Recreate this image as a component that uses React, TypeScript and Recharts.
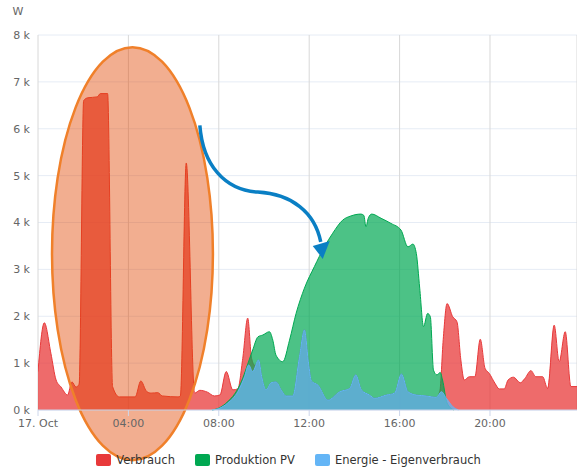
import React from "react";
import {
  AreaChart,
  Area,
  XAxis,
  YAxis,
  CartesianGrid,
  Legend,
  ReferenceArea,
} from "recharts";

// hours since midnight, values in kW
const verbrauchTimes = [
  0, 0.28, 0.57, 0.8, 1.02, 1.31, 1.5, 1.68, 1.82, 2.02, 2.2, 2.62, 2.76, 3.08, 3.3, 3.6,
  4.3, 4.55, 4.8, 5.0, 5.3, 5.5, 6.2, 6.3, 6.56, 6.93, 7.16, 7.5, 7.8, 8.05, 8.33, 8.62,
  8.84, 9.06, 9.28, 9.45, 9.6, 9.76, 9.9, 10.09, 10.31, 10.53, 10.76, 10.98, 11.27, 11.57,
  11.79, 11.97, 12.1, 12.39, 12.83, 13.35, 13.79, 14.06, 14.31, 14.67, 14.9, 15.41, 15.78,
  16.08, 16.37, 16.74, 17.18, 17.62, 17.78, 17.93, 18.1, 18.35, 18.54, 18.71, 18.86, 19.09,
  19.33, 19.57, 19.78, 19.97, 20.22, 20.41, 20.63, 20.8, 21.04, 21.34, 21.54, 21.81, 22.03,
  22.33, 22.55, 22.84, 23.06, 23.33, 23.58, 23.85,
];
const verbrauchValues = [
  0.82, 1.86, 1.21, 0.64, 0.49, 0.32, 0.6, 0.49, 0.55, 6.6, 6.66, 6.68, 6.75, 6.75, 0.5, 0.28,
  0.28, 0.62, 0.4, 0.36, 0.37, 0.3, 0.28, 0.3, 5.27, 0.36, 0.42, 0.38, 0.3, 0.32, 0.82, 0.43,
  0.45, 1.1, 1.96, 1.1, 0.95, 1.07, 0.71, 0.43, 0.58, 0.6, 0.43, 0.3, 0.3, 1.14,
  1.71, 1.0, 0.62, 0.53, 0.21, 0.39, 0.46, 0.75, 0.43, 0.32, 0.25, 0.32, 0.36,
  0.77, 0.39, 0.32, 0.3, 0.27, 0.4, 1.5, 2.27, 1.99, 1.88, 1.07, 0.64, 0.71,
  0.71, 1.51, 0.89, 0.78, 0.57, 0.45, 0.45, 0.64, 0.7, 0.58, 0.67, 0.84, 0.71,
  0.71, 0.46, 1.81, 1.03, 1.67, 0.5, 0.5,
];

const pvTimes = [
  7.7, 8.0, 8.4, 8.84, 9.06, 9.28, 9.5, 9.73, 9.95, 10.24, 10.39, 10.53, 10.83, 11.13, 11.42,
  11.79, 12.23, 12.67, 13.04, 13.48, 13.85, 14.29, 14.42, 14.51, 14.62, 14.77, 15.18, 15.62,
  16.06, 16.37, 16.59, 16.74, 16.89, 17.06, 17.24, 17.36, 17.5, 17.65, 17.8, 17.9, 18.1, 18.4,
];
const pvValues = [
  0, 0.04, 0.18, 0.45, 0.68, 0.98, 1.28, 1.56, 1.6, 1.67, 1.49, 1.17, 1.03, 1.49, 2.06,
  2.6, 3.06, 3.48, 3.77, 4.05, 4.14, 4.18, 4.15, 3.91, 4.1, 4.18, 4.09, 3.98,
  3.84, 3.48, 3.54, 3.34, 2.6, 1.78, 2.06, 1.99, 0.85, 0.75, 0.8, 0.64, 0.15, 0,
];

const eigenTimes = [
  7.7, 8.0, 8.4, 8.84, 9.14, 9.32, 9.5, 9.76, 9.9, 10.09, 10.31, 10.53, 10.76, 10.98, 11.27,
  11.57, 11.79, 11.97, 12.1, 12.39, 12.83, 13.35, 13.79, 14.06, 14.31, 14.67, 14.9, 15.41,
  15.78, 16.08, 16.37, 16.74, 17.18, 17.62, 17.85, 18.07, 18.36, 18.6,
];
const eigenValues = [
  0, 0.03, 0.15, 0.39, 0.71, 0.96, 0.82, 1.07, 0.71, 0.43, 0.58, 0.6, 0.43, 0.3, 0.3,
  1.14, 1.71, 1.0, 0.62, 0.53, 0.21, 0.39, 0.46, 0.75, 0.43, 0.32, 0.25, 0.32,
  0.36, 0.77, 0.39, 0.32, 0.3, 0.27, 0.39, 0.25, 0.07, 0,
];

const xTicks = [0, 4, 8, 12, 16, 20];
const yTicks = [0, 1, 2, 3, 4, 5, 6, 7, 8];

const RED = "#e8393a";
const GREEN = "#00a852";
const BLUE = "#64b5f6";

const legendItems = [
  { name: "Verbrauch", color: RED },
  { name: "Produktion PV", color: GREEN },
  { name: "Energie - Eigenverbrauch", color: BLUE },
];

const toSeries = (times: number[], values: number[]) =>
  times.map((t, i) => ({ t, v: values[i] }));

const verbrauch = toSeries(verbrauchTimes, verbrauchValues);
const pv = toSeries(pvTimes, pvValues);
const eigen = toSeries(eigenTimes, eigenValues);

const fmtX = (h: number) => (h === 0 ? "17. Oct" : `${String(h).padStart(2, "0")}:00`);

const FONT = "'DejaVu Sans', sans-serif";

function EllipseShape(props: any) {
  const { x, y, width, height } = props;
  return (
    <ellipse
      cx={x + width / 2}
      cy={y + height / 2}
      rx={width / 2}
      ry={height / 2}
      fill="#e14703"
      fillOpacity={0.44}
      stroke="#f0802a"
      strokeWidth={2.5}
    />
  );
}

// arrow drawn inside its reference box (design box 140 x 142)
function ArrowShape(props: any) {
  const { x, y, width, height } = props;
  const p = (px: number, py: number) =>
    `${x + (px / 140) * width},${y + (py / 142) * height}`;
  const d = `M${p(5, 5)} C${p(8, 45)} ${p(30, 70)} ${p(63, 72)} C${p(97, 74)} ${p(120, 92)} ${p(126, 122)}`;
  return (
    <g>
      <path d={d} fill="none" stroke="#0a7fc4" strokeWidth={3.5} />
      <polygon points={`${p(118, 126)} ${p(135, 121)} ${p(128, 139)}`} fill="#0a7fc4" />
    </g>
  );
}

function LegendContent() {
  return (
    <div
      style={{
        display: "flex",
        justifyContent: "center",
        alignItems: "center",
        gap: 20,
        height: 18,
        fontFamily: FONT,
        fontSize: 11.5,
        color: "#333",
      }}
    >
      {legendItems.map((it) => (
        <div key={it.name} style={{ display: "flex", alignItems: "center" }}>
          <span
            style={{
              display: "inline-block",
              width: 15,
              height: 12,
              borderRadius: 2,
              background: it.color,
              marginRight: 5,
            }}
          />
          <span>{it.name}</span>
        </div>
      ))}
    </div>
  );
}

export default function App() {
  return (
    <div style={{ position: "absolute", left: 0, top: 0, width: 577, height: 469, overflow: "hidden", background: "#fff" }}>
      <AreaChart width={577} height={469} margin={{ top: 35, right: 0, bottom: 21, left: 0 }}>
        <CartesianGrid vertical={false} stroke="#e6ecf5" />
        <CartesianGrid horizontal={false} stroke="#d8d8d8" />
        <XAxis
          type="number"
          dataKey="t"
          domain={[0, 23.85]}
          ticks={xTicks}
          tickFormatter={fmtX}
          allowDataOverflow
          height={20}
          stroke="#ccd6eb"
          tickSize={6}
          tickMargin={3}
          tick={{ fill: "#666", fontSize: 11, fontFamily: FONT }}
        />
        <YAxis
          domain={[0, 8]}
          ticks={yTicks}
          tickFormatter={(v: number) => `${v} k`}
          axisLine={false}
          tickLine={false}
          width={38}
          tick={{ fill: "#666", fontSize: 11, fontFamily: FONT }}
          label={(lp: any) => (
            <text
              x={(lp.viewBox?.x ?? 0) + 18}
              y={(lp.viewBox?.y ?? 35) - 20}
              textAnchor="middle"
              fill="#666"
              fontSize={11}
              fontFamily={FONT}
            >
              W
            </text>
          )}
        />
        <Area
          data={verbrauch}
          dataKey="v"
          name="Verbrauch"
          type="monotone"
          stroke={RED}
          strokeWidth={1}
          fill={RED}
          fillOpacity={0.75}
          dot={false}
          activeDot={false}
          isAnimationActive={false}
        />
        <Area
          data={pv}
          dataKey="v"
          name="Produktion PV"
          type="monotone"
          stroke={GREEN}
          strokeWidth={1}
          fill={GREEN}
          fillOpacity={0.7}
          dot={false}
          activeDot={false}
          isAnimationActive={false}
        />
        <Area
          data={eigen}
          dataKey="v"
          name="Energie - Eigenverbrauch"
          type="monotone"
          stroke={BLUE}
          strokeWidth={1}
          fill={BLUE}
          fillOpacity={0.75}
          dot={false}
          activeDot={false}
          isAnimationActive={false}
        />
        <ReferenceArea
          x1={0.62}
          x2={7.74}
          y1={-1.07}
          y2={7.74}
          ifOverflow="visible"
          shape={EllipseShape}
        />
        <ReferenceArea
          x1={6.94}
          x2={13.13}
          y1={3.16}
          y2={6.18}
          ifOverflow="visible"
          shape={ArrowShape}
        />
        <Legend verticalAlign="bottom" height={18} wrapperStyle={{ bottom: 0 }} content={LegendContent} />
      </AreaChart>
    </div>
  );
}
